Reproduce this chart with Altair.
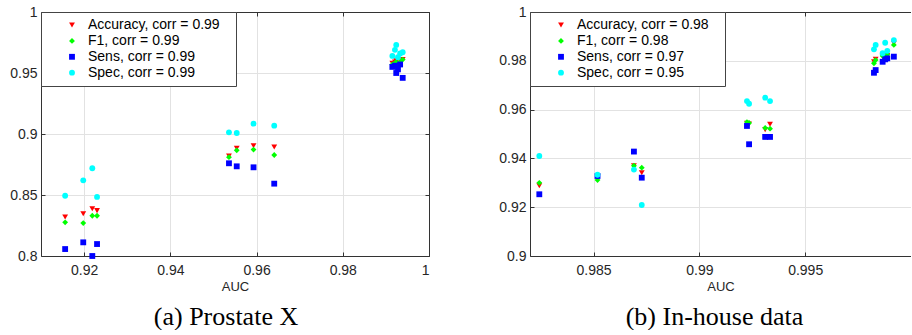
import altair as alt
import pandas as pd

# ---------------- data ----------------
metrics = ["Accuracy", "F1", "Sens", "Spec"]
colors = ["#ff0000", "#00ff00", "#0000ff", "#00ffff"]
shapes = ["triangle-down", "diamond", "square", "circle"]

# (a) Prostate X
corr_a = ["0.99", "0.99", "0.99", "0.99"]
auc_a = [0.9156, 0.9198, 0.9219, 0.9230, 0.9536, 0.9554, 0.9593, 0.9641,
         0.9915, 0.9921, 0.9924, 0.9928, 0.9933, 0.9939]
acc_a = [0.8320, 0.8347, 0.8388, 0.8372, 0.8820, 0.8883, 0.8904, 0.8893,
         0.9580, 0.9590, 0.9600, 0.9580, 0.9600, 0.9610]
f1_a = [0.8276, 0.8270, 0.8330, 0.8330, 0.8810, 0.8866, 0.8872, 0.8828,
        0.9570, 0.9580, 0.9590, 0.9570, 0.9590, 0.9610]
sens_a = [0.8057, 0.8112, 0.8000, 0.8098, 0.8760, 0.8735, 0.8727, 0.8593,
          0.9550, 0.9560, 0.9500, 0.9530, 0.9570, 0.9460]
spec_a = [0.8494, 0.8620, 0.8719, 0.8484, 0.9014, 0.9008, 0.9085, 0.9068,
          0.9640, 0.9690, 0.9730, 0.9630, 0.9660, 0.9670]

# (b) In-house data
corr_b = ["0.98", "0.98", "0.97", "0.95"]
auc_b = [0.98244, 0.98519, 0.98691, 0.98728, 0.99225, 0.99235, 0.99311, 0.99334,
         0.99825, 0.99833, 0.99866, 0.99878, 0.99888, 0.99919]
acc_b = [0.9288, 0.9325, 0.9370, 0.9341, 0.9544, 0.9541, 0.9518, 0.9540,
         0.9796, 0.9806, 0.9818, 0.9815, 0.9822, 0.9872]
f1_b = [0.9300, 0.9311, 0.9370, 0.9362, 0.9549, 0.9545, 0.9525, 0.9522,
        0.9790, 0.9803, 0.9820, 0.9814, 0.9825, 0.9865]
sens_b = [0.9253, 0.9328, 0.9428, 0.9321, 0.9533, 0.9458, 0.9488, 0.9488,
          0.9751, 0.9762, 0.9796, 0.9806, 0.9810, 0.9817]
spec_b = [0.9410, 0.9333, 0.9354, 0.9209, 0.9635, 0.9624, 0.9649, 0.9635,
          0.9847, 0.9865, 0.9831, 0.9874, 0.9841, 0.9885]

xticks_a = [0.92, 0.94, 0.96, 0.98, 1.0]
yticks_a = [0.8, 0.85, 0.9, 0.95, 1.0]
xticks_b = [0.985, 0.99, 0.995]
yticks_b = [0.9, 0.92, 0.94, 0.96, 0.98, 1.0]


def long_df(auc, series, corr):
    rows = []
    labels = []
    for m, vals, c in zip(metrics, series, corr):
        lab = f"{m}, corr = {c}"
        labels.append(lab)
        for a, v in zip(auc, vals):
            rows.append({"auc": a, "value": v, "series": lab})
    return pd.DataFrame(rows), labels


FRAME = "#333333"
TXT = "#262626"
PADCH = "\u2800"  # blank glyph that widens the legend box on the right


def panel(df, labels, xdom, xticks, xfmt, ydom, yticks, W, H, caption, cap_dx,
          right_edge=True):
    base = alt.Chart(df)
    xs = alt.Scale(domain=xdom, nice=False, zero=False)
    ys = alt.Scale(domain=ydom, nice=False, zero=False)
    leg = alt.Legend(
        title=None, orient="top-left", offset=0, fillColor="white",
        strokeColor="#444444", padding=6, symbolOffset=18, labelOffset=9,
        rowPadding=1.9, labelFontSize=14, labelFont="Liberation Sans",
        labelColor="black", symbolSize=34, symbolStrokeWidth=0,
        labelLimit=0, labelExpr="datum.label + '" + PADCH + "'",
    )
    pts = base.mark_point(filled=True, size=34, opacity=1).encode(
        x=alt.X("auc:Q", scale=xs, axis=alt.Axis(
            orient="bottom", values=xticks, format=xfmt, title="AUC",
            grid=True, ticks=False, tickSize=0, domain=True,
            domainColor=FRAME, labelPadding=7, titlePadding=3)),
        y=alt.Y("value:Q", scale=ys, axis=alt.Axis(
            orient="left", values=yticks, format=".2~f", title=None,
            grid=True, ticks=False, tickSize=0, domain=True,
            domainColor=FRAME, labelPadding=4)),
        color=alt.Color("series:N", scale=alt.Scale(domain=labels, range=colors),
                        legend=leg),
        shape=alt.Shape("series:N", scale=alt.Scale(domain=labels, range=shapes),
                        legend=leg),
    )
    # inward ticks along bottom and left edges
    ax2 = base.mark_point(opacity=0).encode(
        x=alt.X("auc:Q", scale=xs, axis=alt.Axis(
            orient="top", offset=-H, values=xticks, labels=False, title=None,
            grid=False, domain=False, ticks=True, tickSize=4, tickColor=FRAME)),
        y=alt.Y("value:Q", scale=ys, axis=alt.Axis(
            orient="right", offset=-W, values=yticks, labels=False, title=None,
            grid=False, domain=False, ticks=True, tickSize=4, tickColor=FRAME)),
    )
    # top edge (and right edge) frame lines with inward ticks
    y3 = (alt.Y("value:Q", scale=ys, axis=alt.Axis(
        orient="left", offset=-W, values=yticks, labels=False, title=None,
        grid=False, domain=True, domainColor=FRAME, ticks=True, tickSize=4,
        tickColor=FRAME)) if right_edge else alt.Y("value:Q", scale=ys, axis=None))
    ax3 = base.mark_point(opacity=0).encode(
        x=alt.X("auc:Q", scale=xs, axis=alt.Axis(
            orient="bottom", offset=-H, values=xticks, labels=False, title=None,
            grid=False, domain=True, domainColor=FRAME, ticks=True, tickSize=4,
            tickColor=FRAME)),
        y=y3,
    )
    return alt.layer(pts, ax2, ax3).properties(
        width=W, height=H,
        title=alt.TitleParams(
            text=caption, orient="bottom", font="Liberation Serif", fontSize=26,
            fontWeight="normal", color="black", anchor="middle", frame="group",
            dx=cap_dx, offset=11),
    )


df_a, lab_a = long_df(auc_a, [acc_a, f1_a, sens_a, spec_a], corr_a)
df_b, lab_b = long_df(auc_b, [acc_b, f1_b, sens_b, spec_b], corr_b)

left = panel(df_a, lab_a, [0.91, 1.0], xticks_a, ".2~f", [0.8, 1.0], yticks_a,
             388, 244, "(a) Prostate X", -9)
right = panel(df_b, lab_b, [0.982, 1.0], xticks_b, ".3~f", [0.9, 1.0], yticks_b,
              381, 244, "(b) In-house data", -6, right_edge=False)

chart = alt.hconcat(left, right, spacing=101, bounds="flush").resolve_scale(
    color="independent", shape="independent"
).resolve_legend(color="independent", shape="independent").properties(
    padding={"left": 9, "right": 0, "top": 5, "bottom": 0},
    background="white",
).configure_view(strokeWidth=0).configure_axis(
    labelFont="Liberation Sans", labelFontSize=14, labelColor=TXT,
    titleFont="Liberation Sans", titleFontSize=13, titleFontWeight="normal",
    titleColor=TXT, gridColor="#e2e2e2", gridWidth=1, domainWidth=1,
)

chart.save("out.html", embed_options={"renderer": "svg", "actions": False})
